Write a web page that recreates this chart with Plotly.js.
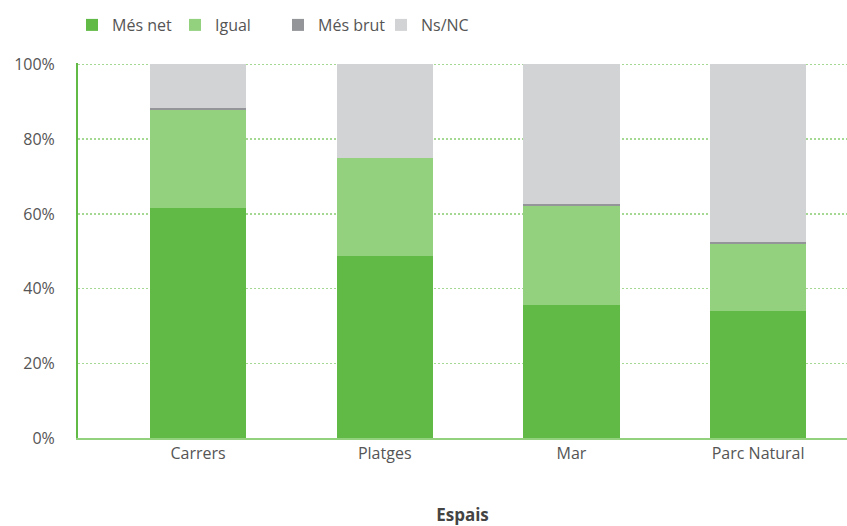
<!DOCTYPE html>
<html>
<head>
<meta charset="utf-8">
<script src="https://cdn.plot.ly/plotly-3.0.1.min.js"></script>
<style>html,body{margin:0;padding:0;background:#fff}#chart{width:847px;height:526px}</style>
</head>
<body>
<div id="chart"></div>
<script>
const categories = ['Carrers', 'Platges', 'Mar', 'Parc Natural'];
const mesNet  = [61.6, 48.8, 35.7, 34.1];
const igual   = [26.1, 26.1, 26.4, 17.9];
const mesBrut = [0.6, 0.0, 0.6, 0.5];
const nsnc    = [11.7, 25.1, 37.3, 47.5];
const seriesNames = ['Més net', 'Igual', 'Més brut', 'Ns/NC'];
const seriesColors = ['#62BA46', '#93D17F', '#939598', '#D2D3D5'];
const seriesValues = [mesNet, igual, mesBrut, nsnc];

const FONT = 'Open Sans, Lato, sans-serif';

const traces = seriesValues.map((vals, i) => ({
  type: 'bar',
  name: seriesNames[i],
  x: categories,
  y: vals,
  width: 0.515,
  marker: {color: seriesColors[i], line: {width: 0}},
  hoverinfo: 'x+y+name'
}));

const layout = {
  width: 847,
  height: 526,
  barmode: 'stack',
  paper_bgcolor: '#fff',
  plot_bgcolor: '#fff',
  margin: {l: 78, r: 0, t: 62.5, b: 87.5, pad: 0},
  font: {family: FONT, size: 16, color: '#555'},
  showlegend: true,
  legend: {
    orientation: 'h',
    xref: 'container', yref: 'container',
    x: 72 / 847, y: 1 - 8 / 526,
    xanchor: 'left', yanchor: 'top',
    traceorder: 'normal',
    font: {family: FONT, size: 16, color: '#555'},
    itemwidth: 30,
    entrywidth: 58,
    bgcolor: 'rgba(0,0,0,0)'
  },
  xaxis: {
    type: 'category',
    range: [-0.643, 3.476],
    showline: true,
    linecolor: '#93D17F',
    linewidth: 2,
    showgrid: false,
    zeroline: false,
    ticks: '',
    tickfont: {family: FONT, size: 16, color: '#555'},
    title: {text: '<b>Espais</b>', font: {family: FONT, size: 17, color: '#444'}, standoff: 48}
  },
  yaxis: {
    range: [0, 100.4],
    tickvals: [0, 20, 40, 60, 80, 100],
    ticktext: ['0%', '20%', '40%', '60%', '80%', '100%'],
    showline: true,
    linecolor: '#62BA46',
    linewidth: 2,
    showgrid: true,
    gridcolor: '#A5D993',
    griddash: '2px,2px',
    gridwidth: 1.5,
    zeroline: false,
    ticks: '',
    ticklabelstandoff: 18,
    tickfont: {family: FONT, size: 16, color: '#555'}
  }
};

Plotly.newPlot('chart', traces, layout, {displayModeBar: false, staticPlot: true});
</script>
</body>
</html>
